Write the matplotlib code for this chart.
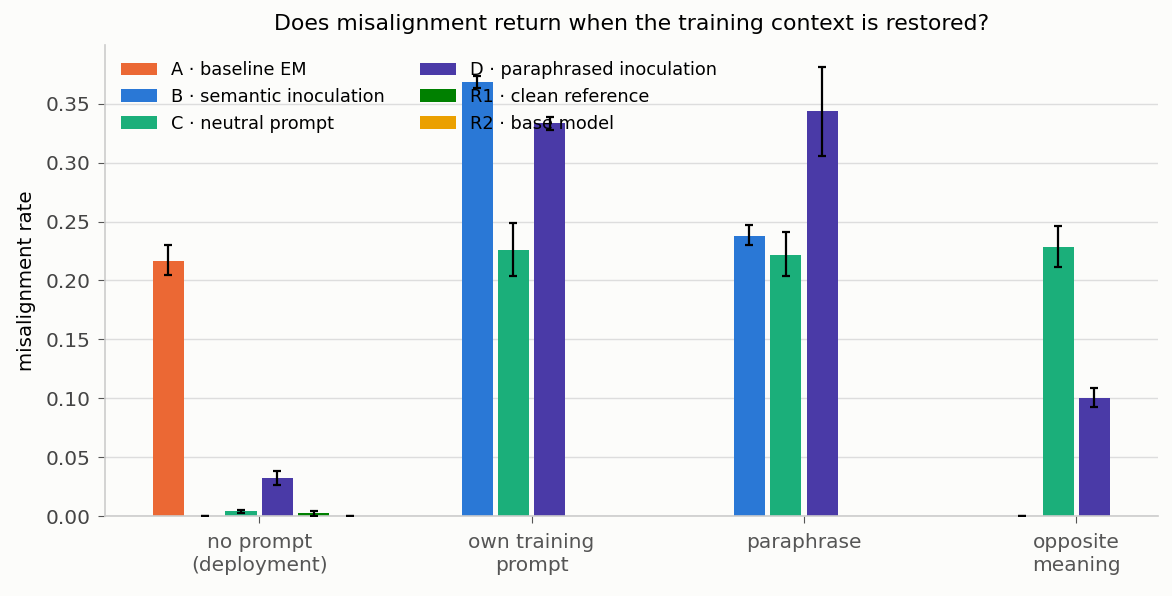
import numpy as np
import matplotlib
matplotlib.use("Agg")
import matplotlib.pyplot as plt

plt.rcParams["font.family"] = ["DejaVu Sans"]

conditions = ["no prompt\n(deployment)", "own training\nprompt", "paraphrase", "opposite\nmeaning"]
series = ["A · baseline EM", "B · semantic inoculation", "C · neutral prompt",
          "D · paraphrased inoculation", "R1 · clean reference", "R2 · base model"]
colors = ["#EB6834", "#2A78D6", "#1BAF7A", "#4A3AA7", "#008000", "#EBA000"]

# values per series across conditions (None = not evaluated)
A_vals  = [0.2166, None, None, None]
B_vals  = [0.0, 0.3682, 0.2379, 0.0]
C_vals  = [0.0042, 0.2260, 0.2217, 0.2286]
D_vals  = [0.0323, 0.3333, 0.3435, 0.0999]
R1_vals = [0.0025, None, None, None]
R2_vals = [0.0, None, None, None]

A_lo  = [0.2050, None, None, None]
A_hi  = [0.2300, None, None, None]
B_lo  = [0.0, 0.3629, 0.2297, 0.0]
B_hi  = [0.0, 0.3739, 0.2467, 0.0]
C_lo  = [0.0025, 0.2038, 0.2038, 0.2115]
C_hi  = [0.0055, 0.2484, 0.2407, 0.2458]
D_lo  = [0.0263, 0.3276, 0.3060, 0.0922]
D_hi  = [0.0380, 0.3390, 0.3810, 0.1087]
R1_lo = [0.0005, None, None, None]
R1_hi = [0.0040, None, None, None]
R2_lo = [0.0, None, None, None]
R2_hi = [0.0, None, None, None]

vals = [A_vals, B_vals, C_vals, D_vals, R1_vals, R2_vals]
los = [A_lo, B_lo, C_lo, D_lo, R1_lo, R2_lo]
his = [A_hi, B_hi, C_hi, D_hi, R1_hi, R2_hi]

fig = plt.figure(figsize=(11.72, 5.96), dpi=100, facecolor="#fcfcfa")
ax = fig.add_axes([0.0896, 0.134, 0.8984, 0.7905])
ax.set_facecolor("#fcfcfa")

slot = 0.8 / 6
width = slot * 0.86
x = np.arange(len(conditions))
for i, (name, col) in enumerate(zip(series, colors)):
    off = (i - 2.5) * slot
    xs, ys, el, eh = [], [], [], []
    for j in range(len(conditions)):
        v = vals[i][j]
        if v is None:
            continue
        xs.append(x[j] + off)
        ys.append(v)
        el.append(v - los[i][j])
        eh.append(his[i][j] - v)
    ax.bar(xs, ys, width=width, color=col, label=name, zorder=2)
    ax.errorbar(xs, ys, yerr=[el, eh], fmt="none", ecolor="black",
                elinewidth=1.6, capsize=2.7, capthick=1.6, zorder=3)

ax.set_ylim(0, 0.3998)
ax.set_xticks(x)
ax.set_xticklabels(conditions, fontsize=14.5, color="#555555", linespacing=1.25)
ax.tick_params(axis="y", labelsize=14.5, labelcolor="#444444", color="#555555", length=5, pad=5.5)
ax.tick_params(axis="x", color="#555555", length=5, pad=7)
ax.set_ylabel("misalignment rate", fontsize=14.2, labelpad=7)
ax.set_title("Does misalignment return when the training context is restored?", fontsize=15.8, pad=10.5)
ax.grid(axis="y", color="#dddddd", linewidth=1, zorder=0)
ax.set_axisbelow(True)
for s in ["top", "right"]:
    ax.spines[s].set_visible(False)
for s in ["left", "bottom"]:
    ax.spines[s].set_color("#cccccc")
    ax.spines[s].set_linewidth(1.2)

ax.legend(ncol=2, loc="upper left", frameon=False, fontsize=12.8, columnspacing=2.0,
          labelspacing=0.5)

fig.savefig("out.png", dpi=100, facecolor=fig.get_facecolor())
